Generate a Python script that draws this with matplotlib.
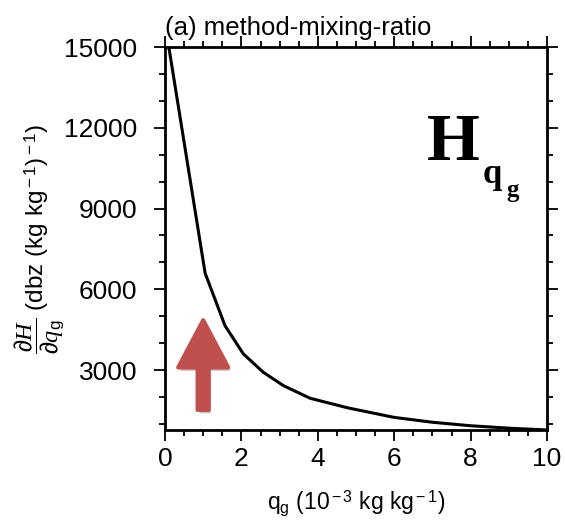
import matplotlib
matplotlib.use("Agg")
import matplotlib.pyplot as plt
import matplotlib.patheffects as pe
from matplotlib.ticker import MultipleLocator

# data
qg = [0.1, 1.05, 1.57, 2.05, 2.57, 3.1, 3.8, 4.8, 6.0, 7.0, 8.0, 9.0, 10.0]
dHdq = [15000, 6600, 4650, 3600, 2920, 2420, 1950, 1590, 1240, 1060, 930, 840, 772]
xticks = [0, 2, 4, 6, 8, 10]
yticks = [3000, 6000, 9000, 12000, 15000]

plt.rcParams['font.family'] = ['Liberation Sans', 'DejaVu Sans']
plt.rcParams['mathtext.fontset'] = 'custom'
plt.rcParams['mathtext.rm'] = 'Liberation Sans'
plt.rcParams['mathtext.it'] = 'Liberation Serif:italic'
plt.rcParams['mathtext.bf'] = 'Liberation Sans:bold'

fig = plt.figure(figsize=(5.65, 5.23), dpi=100)
ax = fig.add_axes([165/565, 1-430/523, 382/565, 383/523])

ax.plot(qg, dHdq, color='black', lw=2.2, solid_joinstyle='round')
ax.set_xlim(0, 10)
ax.set_ylim(min(dHdq), max(dHdq))
ax.set_xticks(xticks)
ax.set_yticks(yticks)
ax.xaxis.set_minor_locator(MultipleLocator(0.5))
ax.yaxis.set_minor_locator(MultipleLocator(1000))
for s in ax.spines.values():
    s.set_linewidth(2.0)
ax.tick_params(which='both', direction='out', top=True, right=True, width=1.3)
ax.tick_params(which='major', length=8, labelsize=19, pad=4)
ax.tick_params(axis='y', which='major', pad=12)
ax.tick_params(which='minor', length=4)

ax.set_title('(a) method-mixing-ratio', loc='left', fontsize=18.5, pad=9)
ax.set_xlabel(r'q$_{\rm g}$ (10$^{\rm -3}$ kg kg$^{\rm -1}$)', fontsize=16.5, labelpad=13)
ax.set_ylabel(r'$\dfrac{\partial H}{\partial q_{\rm g}}$ (dbz (kg kg$^{\rm -1}$)$^{\rm -1}$)',
              fontsize=17.5, labelpad=-2)

# big label
ax.text(0.686, 0.705, 'H', transform=ax.transAxes, fontsize=49,
        family='Liberation Serif', weight='bold', ha='left', va='baseline')
ax.text(0.832, 0.645, 'q', transform=ax.transAxes, fontsize=25,
        family='Liberation Serif', weight='bold', ha='left', va='baseline')
ax.text(0.893, 0.608, 'g', transform=ax.transAxes, fontsize=18,
        family='Liberation Serif', weight='bold', ha='left', va='baseline')

# red arrow
ax.annotate('', xy=(1.0, 4850), xytext=(1.0, 1520), xycoords='data',
            arrowprops=dict(arrowstyle='simple,head_length=34,head_width=36,tail_width=8',
                            mutation_scale=1, fc='#C0504D', ec='#C0504D', lw=3,
                            joinstyle='round', capstyle='round', shrinkA=0, shrinkB=0,
                            path_effects=[pe.SimplePatchShadow(offset=(1.5, -2.5), alpha=0.25), pe.Normal()]))

fig.savefig('out.png', dpi=100)
